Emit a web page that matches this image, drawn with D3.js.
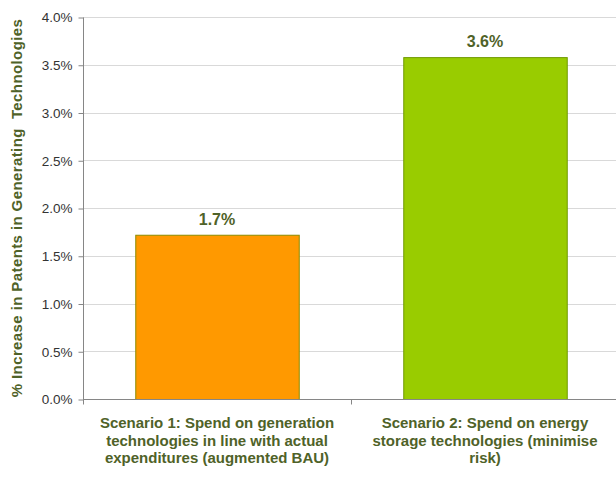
<!DOCTYPE html>
<html>
<head>
<meta charset="utf-8" />
<script src="https://cdn.jsdelivr.net/npm/d3@7/dist/d3.min.js"></script>
<style>
body { margin: 0; background: #fff; font-family: "Liberation Sans", Arial, sans-serif; }
</style>
</head>
<body>
<svg width="616" height="480"></svg>
<script>
// data
var categories = [
	["Scenario 1: Spend on generation", "technologies in line with actual", "expenditures (augmented BAU)"],
	["Scenario 2: Spend on energy", "storage technologies (minimise", "risk)"]
];
var values     = [0.0172, 0.0358];
var valueLabels = ["1.7%", "3.6%"];
var barColors  = ["#ff9900", "#99cc00"];
var barStrokes = ["#8c8c00", "#6f9a00"];
var yTicks     = [0, 0.005, 0.01, 0.015, 0.02, 0.025, 0.03, 0.035, 0.04];
var yTitle     = "% Increase in Patents in Generating  Technologies";

var m = {left: 83, right: 619, top: 17, bottom: 399};
var textGreen = "#4f6228";

var svg = d3.select("svg");

var x = d3.scaleBand().domain([0, 1]).range([m.left, m.right]).paddingInner(0.39).paddingOuter(0.195);
var y = d3.scaleLinear().domain([0, 0.04]).range([m.bottom, m.top]);

// grid
svg.append("g").selectAll("line").data(yTicks.slice(1)).enter().append("line")
	.attr("x1", m.left).attr("x2", m.right)
	.attr("y1", function(d) { return Math.round(y(d)) + 0.5; })
	.attr("y2", function(d) { return Math.round(y(d)) + 0.5; })
	.attr("stroke", "#d9d9d9");

// y axis
var gy = svg.append("g").attr("transform", "translate(" + (m.left + 0.5) + ",0.5)")
	.call(d3.axisLeft(y).tickValues(yTicks).tickFormat(d3.format(".1%")).tickSize(5).tickPadding(6));
gy.selectAll("path, line").attr("stroke", "#868686");
gy.select(".domain").attr("d", "M0," + m.top + "V" + m.bottom);
gy.selectAll("text").attr("font-family", "Liberation Sans, Arial, sans-serif").attr("font-size", 13.5).attr("fill", "#333");

// bars
svg.append("g").selectAll("rect").data(values).enter().append("rect")
	.attr("x", function(d, i) { return x(i) + 0.5; })
	.attr("y", function(d) { return y(d) + 0.5; })
	.attr("width", x.bandwidth())
	.attr("height", function(d) { return y(0) - y(d); })
	.attr("fill", function(d, i) { return barColors[i]; })
	.attr("stroke", function(d, i) { return barStrokes[i]; })
	.attr("stroke-width", 1);

// x axis
var gx = svg.append("g").attr("transform", "translate(0," + (m.bottom + 0.5) + ")");
gx.append("line").attr("x1", m.left).attr("x2", m.right).attr("stroke", "#868686");
gx.selectAll(".tk").data([m.left, (m.left + m.right) / 2, m.right]).enter().append("line")
	.attr("x1", function(d) { return Math.round(d) + 0.5; })
	.attr("x2", function(d) { return Math.round(d) + 0.5; })
	.attr("y1", 0).attr("y2", 5).attr("stroke", "#868686");

// value labels
svg.append("g").selectAll("text").data(values).enter().append("text")
	.attr("x", function(d, i) { return x(i) + x.bandwidth() / 2; })
	.attr("y", function(d) { return y(d) - 10; })
	.attr("text-anchor", "middle")
	.attr("font-size", 16).attr("font-weight", "bold")
	.attr("fill", textGreen)
	.text(function(d, i) { return valueLabels[i]; });

// category labels
categories.forEach(function(lines, i) {
	var t = svg.append("text")
		.attr("text-anchor", "middle")
		.attr("font-size", 15).attr("font-weight", "bold")
		.attr("fill", textGreen);
	lines.forEach(function(s, j) {
		t.append("tspan").attr("x", x(i) + x.bandwidth() / 2).attr("y", 428 + j * 17.5).text(s);
	});
});

// y title
svg.append("text")
	.attr("transform", "translate(22," + ((m.top + m.bottom) / 2) + ") rotate(-90)")
	.attr("text-anchor", "middle")
	.attr("font-size", 15).attr("font-weight", "bold")
	.attr("letter-spacing", 0.4)
	.attr("fill", textGreen)
	.text(yTitle)
	.attr("xml:space", "preserve")
	.style("white-space", "pre");
</script>
</body>
</html>
